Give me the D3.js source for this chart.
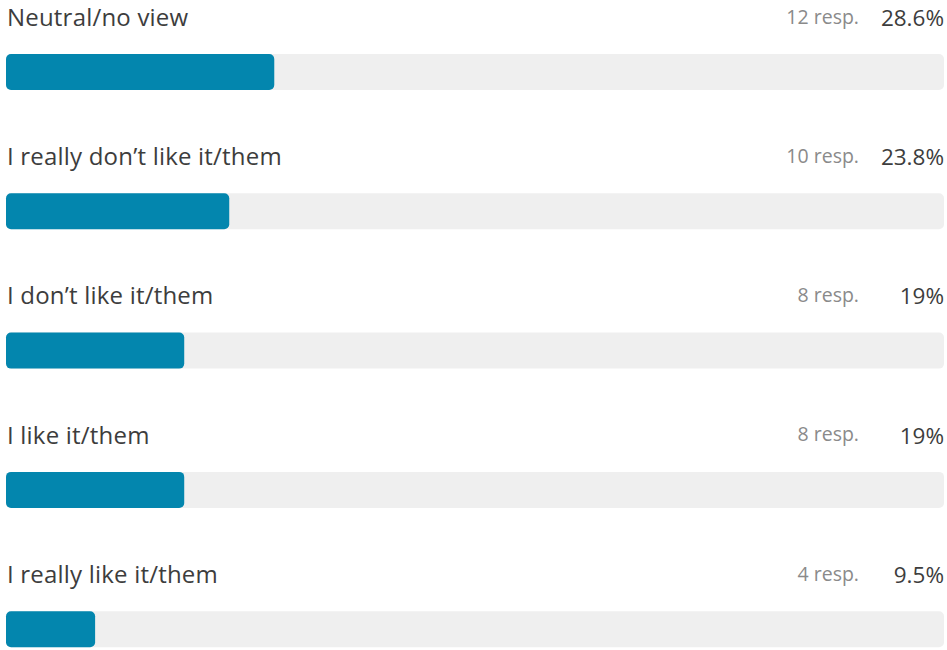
<!DOCTYPE html>
<html>
<head>
<meta charset="utf-8">
<script src="https://cdn.jsdelivr.net/npm/d3@7"></script>
<style>
  html, body { margin: 0; padding: 0; background: #fff; }
  svg { display: block; font-family: "Open Sans", "Noto Sans", sans-serif; }
</style>
</head>
<body>
<div id="chart"></div>
<script>
// Survey answers, top to bottom
const answers = [
    "Neutral/no view",
    "I really don’t like it/them",
    "I don’t like it/them",
    "I like it/them",
    "I really like it/them"
];
const responses = [12, 10, 8, 8, 4];
const percents = [28.6, 23.8, 19, 19, 9.5];

const width = 947;
const height = 650;
const margin = { top: 0, right: 3, bottom: 0, left: 6 };
const rowHeight = 139.3;
const barTop = 54;
const barHeight = 36;

const data = answers.map((a, i) => ({ answer: a, resp: responses[i], pct: percents[i] }));

const svg = d3.select("#chart")
    .append("svg")
    .attr("width", width)
    .attr("height", height);

const x = d3.scaleLinear()
    .domain([0, 100])
    .range([margin.left, width - margin.right]);

const y = d3.scaleBand()
    .domain(answers)
    .range([0, rowHeight * answers.length]);

const rows = svg.selectAll(".row")
    .data(data)
    .enter()
    .append("g")
    .attr("class", "row")
    .attr("transform", d => `translate(0,${y(d.answer)})`);

// Label (baseline kept low enough that the first row is not clipped)
rows.append("text")
    .attr("x", 7)
    .attr("y", 25.8)
    .attr("fill", "#3d3d3d")
    .attr("font-size", "24px")
    .attr("letter-spacing", "0.2px")
    .text(d => d.answer);

// Percentage
rows.append("text")
    .attr("x", x(100))
    .attr("y", 25.8)
    .attr("text-anchor", "end")
    .attr("fill", "#3d3d3d")
    .attr("font-size", "22.5px")
    .text(d => `${d.pct}%`);

// Response count
rows.append("text")
    .attr("x", 859)
    .attr("y", 23.5)
    .attr("text-anchor", "end")
    .attr("fill", "#8a8a8a")
    .attr("font-size", "19.5px")
    .text(d => `${d.resp} resp.`);

// Track
rows.append("rect")
    .attr("x", x(0))
    .attr("y", barTop)
    .attr("width", x(100) - x(0))
    .attr("height", barHeight)
    .attr("rx", 5)
    .attr("fill", "#efefef");

// Filled part
rows.append("rect")
    .attr("x", x(0))
    .attr("y", barTop)
    .attr("width", d => x(d.pct) - x(0))
    .attr("height", barHeight)
    .attr("rx", 5)
    .attr("fill", "#0386ae");
</script>
</body>
</html>
